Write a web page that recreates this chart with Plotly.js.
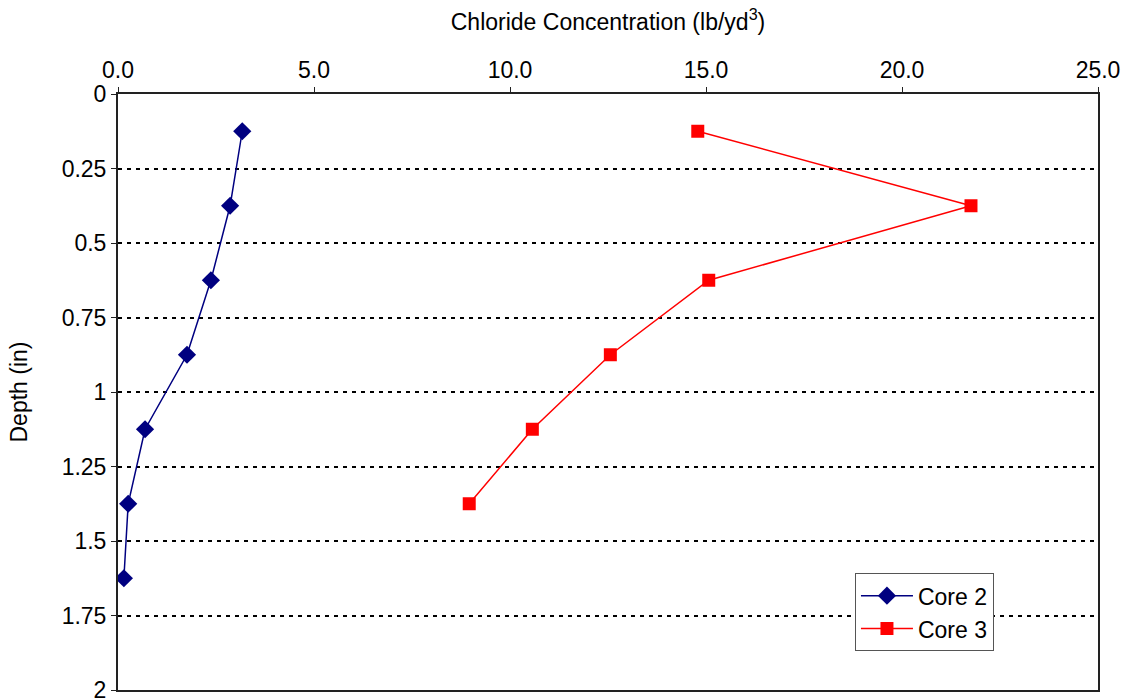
<!DOCTYPE html>
<html>
<head>
<meta charset="utf-8">
<script src="https://cdn.plot.ly/plotly-3.0.1.min.js"></script>
<style>
  html, body { margin: 0; padding: 0; background: #fff; }
  #chart { width: 1130px; height: 698px; }
</style>
</head>
<body>
<div id="chart"></div>
<script>
// depth midpoints of each core slice (in)
const depthCore2 = [0.125, 0.375, 0.625, 0.875, 1.125, 1.375, 1.625];
const chlorideCore2 = [3.17, 2.86, 2.37, 1.76, 0.69, 0.26, 0.15];

const depthCore3 = [0.125, 0.375, 0.625, 0.875, 1.125, 1.375];
const chlorideCore3 = [14.79, 21.76, 15.07, 12.56, 10.57, 8.96];

const FONT = 'Liberation Sans, Arial, sans-serif';

const traces = [
    {
        name: 'Core 2',
        x: chlorideCore2,
        y: depthCore2,
        mode: 'lines+markers',
        line: { color: '#000080', width: 1.5 },
        marker: { symbol: 'diamond', size: 14, color: '#000080' }
    },
    {
        name: 'Core 3',
        x: chlorideCore3,
        y: depthCore3,
        mode: 'lines+markers',
        line: { color: '#ff0000', width: 1.5 },
        marker: { symbol: 'square', size: 13, color: '#ff0000' }
    }
];

const layout = {
    width: 1130,
    height: 698,
    paper_bgcolor: '#fff',
    plot_bgcolor: '#fff',
    font: { family: FONT, size: 23, color: '#000' },
    margin: { l: 118, r: 32, t: 94, b: 8 },
    showlegend: true,
    legend: {
        x: 0.752, y: 0.196, xanchor: 'left', yanchor: 'top',
        bgcolor: '#fff', bordercolor: '#555', borderwidth: 1,
        itemwidth: 52,
        font: { family: FONT, size: 23 }
    },
    xaxis: {
        side: 'top',
        range: [0, 25],
        dtick: 5,
        tickformat: '.1f',
        ticks: 'outside',
        ticklen: 5,
        tickcolor: '#222',
        ticklabeloverflow: 'allow',
        showgrid: false,
        zeroline: false,
        showline: true,
        linecolor: '#222',
        linewidth: 2,
        mirror: true,
        title: { text: 'Chloride Concentration (lb/yd<sup>3</sup>)', font: { size: 23 }, standoff: 20 }
    },
    yaxis: {
        range: [2, 0],
        dtick: 0.25,
        ticks: 'outside',
        ticklen: 5,
        tickcolor: '#222',
        ticklabeloverflow: 'allow',
        showgrid: true,
        gridcolor: '#000',
        gridwidth: 2,
        griddash: '4px,5px',
        zeroline: false,
        showline: true,
        linecolor: '#222',
        linewidth: 2,
        mirror: true,
        title: { text: 'Depth (in)', font: { size: 23 }, standoff: 28 }
    }
};

Plotly.newPlot('chart', traces, layout, { displayModeBar: false, staticPlot: true });
</script>
</body>
</html>
